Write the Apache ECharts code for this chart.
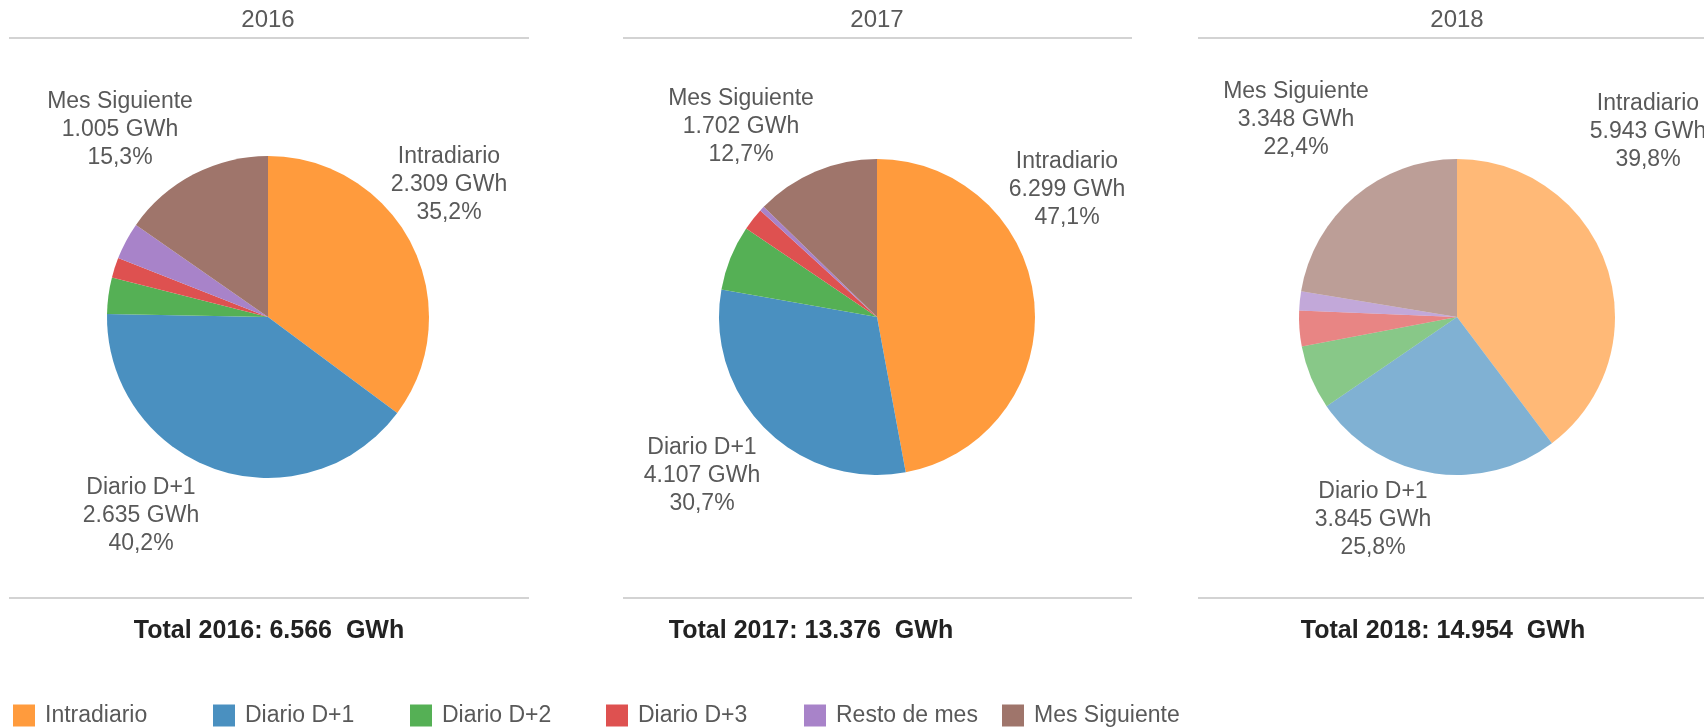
<!DOCTYPE html>
<html>
<head>
<meta charset="utf-8">
<script src="https://cdn.jsdelivr.net/npm/echarts@6/dist/echarts.min.js"></script>
<style>html,body{margin:0;padding:0;background:#fff}#c{width:1704px;height:727px}</style>
</head>
<body>
<div id="c"></div>
<script>
const categories = ['Intradiario', 'Diario D+1', 'Diario D+2', 'Diario D+3', 'Resto de mes', 'Mes Siguiente'];
const years = ['2016', '2017', '2018'];
const values2016 = [2309, 2635, 240, 132, 245, 1005];
const values2017 = [6299, 4107, 893, 308, 67, 1702];
const values2018 = [5943, 3845, 980, 545, 293, 3348];
const pct2016 = [35.2, 40.2, null, null, null, 15.3];
const pct2017 = [47.1, 30.7, null, null, null, 12.7];
const pct2018 = [39.8, 25.8, null, null, null, 22.4];
const colors = ['#FF9B3D', '#4A90C0', '#55B055', '#DE5150', '#A883C9', '#9F756B'];

const allValues = [values2016, values2017, values2018];
const allPct = [pct2016, pct2017, pct2018];

// layout (pixels)
const centers = [[268, 317], [877, 317], [1457, 317]];
const radii = [161, 158, 158];
const alphas = [1, 1, 0.7];
const labelOffsets = [
  {0: [181, -132], 1: [-127, 199], 5: [-148, -187]},
  {0: [190, -127], 1: [-175, 159], 5: [-136, -190]},
  {0: [191, -185], 1: [-84, 203], 5: [-161, -197]}
];
const lineSpans = [[9, 529], [623, 1132], [1198, 1704]];
const totalX = [269, 811, 1443];
const legendLeft = [13, 213, 410, 606, 804, 1002];

const FONT = 'Liberation Sans';
function fmt(v) { return String(v).replace(/\B(?=(\d{3})+(?!\d))/g, '.'); }
function tint(hex, a) {
  const n = parseInt(hex.slice(1), 16);
  const r = (n >> 16) & 255, g = (n >> 8) & 255, b = n & 255;
  return 'rgba(' + r + ',' + g + ',' + b + ',' + a + ')';
}

const chart = echarts.init(document.getElementById('c'), null, {renderer: 'canvas'});

const series = years.map((y, si) => ({
  type: 'pie',
  name: y,
  center: centers[si],
  radius: radii[si],
  startAngle: 90,
  clockwise: true,
  silent: true,
  animation: false,
  emphasis: {disabled: true},
  labelLine: {show: false},
  data: categories.map((c, i) => ({
    name: c,
    value: allValues[si][i],
    itemStyle: {color: tint(colors[i], alphas[si]), borderWidth: 0},
    label: {show: allPct[si][i] !== null}
  })),
  label: {
    show: true,
    position: 'outside',
    overflow: 'none',
    fontFamily: FONT,
    fontSize: 23,
    lineHeight: 28,
    color: '#595959',
    align: 'center',
    formatter: p => p.name + '\n' + fmt(p.value) + ' GWh\n' +
      (allPct[si][p.dataIndex] !== null ? allPct[si][p.dataIndex].toFixed(1).replace('.', ',') : '') + '%'
  },
  labelLayout: p => {
    const o = labelOffsets[si][p.dataIndex];
    if (!o) return {};
    return {x: centers[si][0] + o[0], y: centers[si][1] + o[1], align: 'center', verticalAlign: 'middle'};
  }
}));

const graphics = [];
years.forEach((y, si) => {
  const span = lineSpans[si];
  const total = allValues[si].reduce((a, b) => a + b, 0);
  graphics.push({type: 'line', silent: true, shape: {x1: span[0], y1: 38, x2: span[1], y2: 38}, style: {stroke: '#d3d3d3', lineWidth: 2}});
  graphics.push({type: 'line', silent: true, shape: {x1: span[0], y1: 598, x2: span[1], y2: 598}, style: {stroke: '#d3d3d3', lineWidth: 2}});
  graphics.push({type: 'text', silent: true, style: {x: centers[si][0], y: 20, text: y, textAlign: 'center', textVerticalAlign: 'middle', fontFamily: FONT, fontSize: 24, fill: '#595959'}});
  graphics.push({type: 'text', silent: true, style: {x: totalX[si], y: 631, text: 'Total ' + y + ': ' + fmt(total) + '  GWh', textAlign: 'center', textVerticalAlign: 'middle', fontFamily: FONT, fontWeight: 'bold', fontSize: 25, fill: '#222'}});
});

const legends = categories.map((c, i) => ({
  data: [c],
  left: legendLeft[i],
  top: 704,
  padding: 0,
  itemWidth: 22,
  itemHeight: 22,
  icon: 'rect',
  selectedMode: false,
  textStyle: {fontFamily: FONT, fontSize: 23, color: '#595959', padding: [0, 0, 0, 5]}
}));

chart.setOption({
  animation: false,
  color: colors,
  legend: legends,
  series: series,
  graphic: graphics
});
</script>
</body>
</html>
